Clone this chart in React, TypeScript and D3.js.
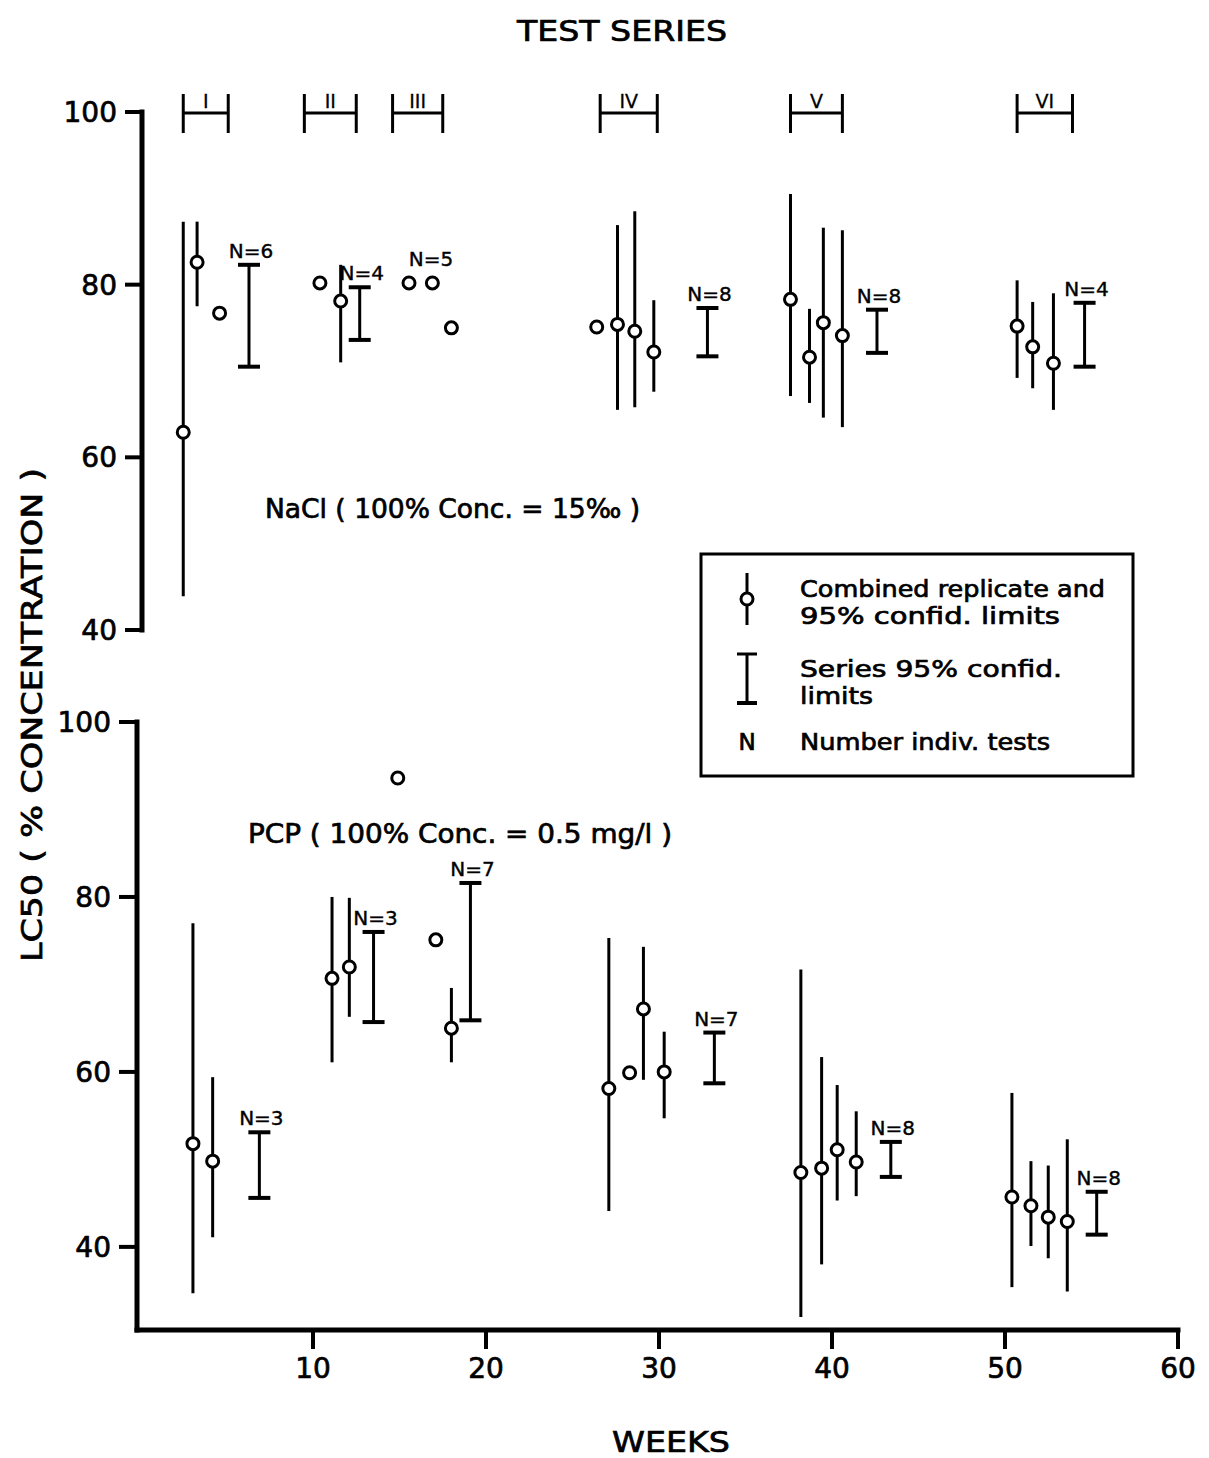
import React from "react";
import * as d3 from "d3";

// ---------- DATA ----------
const seriesNames = ["I", "II", "III", "IV", "V", "VI"];
const seriesStart = [2.5, 9.5, 14.6, 26.6, 37.6, 50.7];
const seriesEnd = [5.1, 12.5, 17.5, 29.9, 40.6, 53.9];

// NaCl – combined replicates (null = no limits drawn)
const naclWeek = [2.5, 3.3, 4.6, 10.4, 11.6, 15.55, 16.9, 18.0, 26.4, 27.6, 28.6, 29.7, 37.6, 38.7, 39.5, 40.6, 50.7, 51.6, 52.8];
const naclLC50 = [62.9, 82.6, 76.7, 80.2, 78.1, 80.2, 80.2, 75.0, 75.1, 75.4, 74.6, 72.2, 78.3, 71.6, 75.6, 74.1, 75.2, 72.8, 70.9];
const naclLow = [43.9, 77.5, null, null, 71.0, null, null, null, null, 65.5, 65.8, 67.6, 67.1, 66.3, 64.6, 63.5, 69.2, 68.0, 65.5];
const naclHigh = [87.3, 87.3, null, null, 82.3, null, null, null, null, 86.9, 88.5, 78.2, 90.5, 77.2, 86.6, 86.3, 80.5, 78.0, 79.0];

// NaCl – series 95% limits
const naclSerWeek = [6.3, 12.7, 16.7, 32.8, 42.6, 54.6];
const naclSerLow = [70.5, 73.6, null, 71.7, 72.1, 70.5];
const naclSerHigh = [82.3, 79.7, null, 77.3, 77.1, 77.9];
const naclSerLabelAt = [82.3, 79.7, 81.3, 77.3, 77.1, 77.9];
const naclSerN = [6, 4, 5, 8, 8, 4];

// PCP – combined replicates
const pcpWeek = [3.06, 4.2, 11.1, 12.1, 14.9, 17.1, 18.0, 27.1, 28.3, 29.1, 30.3, 38.2, 39.4, 40.3, 41.4, 50.4, 51.5, 52.5, 53.6];
const pcpLC50 = [51.8, 49.8, 70.7, 72.0, 93.6, 75.1, 65.0, 58.1, 59.9, 67.2, 60.0, 48.5, 49.0, 51.1, 49.7, 45.7, 44.7, 43.4, 42.9];
const pcpLow = [34.7, 41.1, 61.1, 66.3, null, null, 61.1, 44.1, null, 59.1, 54.7, 32.0, 38.0, 45.3, 45.8, 35.4, 40.1, 38.7, 34.9];
const pcpHigh = [77.0, 59.4, 80.0, 79.9, null, null, 69.6, 75.3, null, 74.3, 64.6, 71.7, 61.7, 58.5, 55.5, 57.6, 49.8, 49.3, 52.3];

// PCP – series 95% limits
const pcpSerWeek = [6.9, 13.5, 19.1, 33.2, 43.4, 55.3];
const pcpSerLow = [45.6, 65.7, 65.9, 58.7, 48.0, 41.4];
const pcpSerHigh = [53.1, 76.0, 81.6, 64.5, 52.0, 46.3];
const pcpSerN = [3, 3, 7, 7, 8, 8];

const xTicks = [10, 20, 30, 40, 50, 60];
const yTicks = [40, 60, 80, 100];

// ---------- LAYOUT ----------
const W = 1209;
const H = 1458;
const FONT = "'DejaVu Sans', 'Liberation Sans', sans-serif";
const TXT = { fontFamily: FONT, fill: "#000", stroke: "#000", strokeWidth: 0.7 };

const x = d3.scaleLinear().domain([0, 60]).range([140, 1178]);
const yTop = d3.scaleLinear().domain([40, 100]).range([630, 112]);
const yBot = d3.scaleLinear().domain([30.5, 100]).range([1330, 722]);

const topAxisX = 142;
const botAxisX = 137;

function Replicates({ week, val, low, high, y }: any) {
  return (
    <g>
      {week.map((w: number, i: number) =>
        low[i] != null ? (
          <line key={"l" + i} x1={x(w)} x2={x(w)} y1={y(high[i])} y2={y(low[i])} stroke="#000" strokeWidth={3} />
        ) : null
      )}
      {week.map((w: number, i: number) => (
        <circle key={"c" + i} cx={x(w)} cy={y(val[i])} r={6} fill="#fff" stroke="#000" strokeWidth={3} />
      ))}
    </g>
  );
}

function SeriesBars({ week, low, high, labelAt, n, y }: any) {
  return (
    <g>
      {week.map((w: number, i: number) => {
        const cx = x(w);
        const la = labelAt ? labelAt[i] : high[i];
        return (
          <g key={i}>
            {low[i] != null && (
              <g stroke="#000">
                <line x1={cx} x2={cx} y1={y(high[i])} y2={y(low[i])} strokeWidth={3} />
                <line x1={cx - 11} x2={cx + 11} y1={y(high[i])} y2={y(high[i])} strokeWidth={4} />
                <line x1={cx - 11} x2={cx + 11} y1={y(low[i])} y2={y(low[i])} strokeWidth={4} />
              </g>
            )}
            <text x={cx + 2} y={y(la) - 7} textAnchor="middle" fontSize={20} {...TXT} strokeWidth={0.4}>
              {"N=" + n[i]}
            </text>
          </g>
        );
      })}
    </g>
  );
}

export default function App() {
  return (
    <svg width={W} height={H} style={{ position: "absolute", left: 0, top: 0, background: "#fff" }}>
      <rect x={0} y={0} width={W} height={H} fill="#fff" />

      {/* title */}
      <text x={622} y={41} textAnchor="middle" fontSize={29} {...TXT} textLength={210} lengthAdjust="spacingAndGlyphs">
        TEST SERIES
      </text>

      {/* test series brackets */}
      {seriesNames.map((s, i) => {
        const a = x(seriesStart[i]);
        const b = x(seriesEnd[i]);
        return (
          <g key={s}>
            <g stroke="#000" strokeWidth={3}>
              <line x1={a} x2={b} y1={113} y2={113} />
              <line x1={a} x2={a} y1={94} y2={133} />
              <line x1={b} x2={b} y1={94} y2={133} />
            </g>
            <text x={(a + b) / 2} y={108} textAnchor="middle" fontSize={19} {...TXT} strokeWidth={0.3}>
              {s}
            </text>
          </g>
        );
      })}

      {/* upper axis */}
      <line x1={topAxisX} x2={topAxisX} y1={yTop(100)} y2={yTop(40)} stroke="#000" strokeWidth={5} strokeLinecap="square" />
      {yTicks.map((t) => (
        <g key={"ut" + t}>
          <line x1={125} x2={topAxisX} y1={yTop(t)} y2={yTop(t)} stroke="#000" strokeWidth={4} />
          <text x={117} y={yTop(t) + 10} textAnchor="end" fontSize={28} {...TXT}>
            {t}
          </text>
        </g>
      ))}

      {/* lower axis */}
      <line x1={botAxisX} x2={botAxisX} y1={yBot(100)} y2={1330} stroke="#000" strokeWidth={5} strokeLinecap="square" />
      <line x1={botAxisX} x2={x(60)} y1={1330} y2={1330} stroke="#000" strokeWidth={5} strokeLinecap="square" />
      {yTicks.map((t) => (
        <g key={"bt" + t}>
          <line x1={119} x2={botAxisX} y1={yBot(t)} y2={yBot(t)} stroke="#000" strokeWidth={4} />
          <text x={111} y={yBot(t) + 10} textAnchor="end" fontSize={28} {...TXT}>
            {t}
          </text>
        </g>
      ))}
      {xTicks.map((t) => (
        <g key={"xt" + t}>
          <line x1={x(t)} x2={x(t)} y1={1330} y2={1349} stroke="#000" strokeWidth={4} />
          <text x={x(t)} y={1378} textAnchor="middle" fontSize={28} {...TXT}>
            {t}
          </text>
        </g>
      ))}

      {/* axis titles */}
      <text x={671} y={1452} textAnchor="middle" fontSize={29} {...TXT} textLength={118} lengthAdjust="spacingAndGlyphs">
        WEEKS
      </text>
      <text
        transform="translate(42,715) rotate(-90)"
        x={0}
        y={0}
        textAnchor="middle"
        fontSize={28}
        {...TXT}
        textLength={494}
        lengthAdjust="spacingAndGlyphs"
      >
        LC50 ( % CONCENTRATION )
      </text>

      {/* panel labels */}
      <text x={265} y={518} fontSize={26} {...TXT} textLength={375} lengthAdjust="spacingAndGlyphs">
        NaCl ( 100% Conc. = 15‰ )
      </text>
      <text x={248} y={843} fontSize={26} {...TXT} textLength={424} lengthAdjust="spacingAndGlyphs">
        PCP ( 100% Conc. = 0.5 mg/l )
      </text>

      {/* data */}
      <Replicates week={naclWeek} val={naclLC50} low={naclLow} high={naclHigh} y={yTop} />
      <SeriesBars week={naclSerWeek} low={naclSerLow} high={naclSerHigh} labelAt={naclSerLabelAt} n={naclSerN} y={yTop} />
      <Replicates week={pcpWeek} val={pcpLC50} low={pcpLow} high={pcpHigh} y={yBot} />
      <SeriesBars week={pcpSerWeek} low={pcpSerLow} high={pcpSerHigh} n={pcpSerN} y={yBot} />

      {/* legend */}
      <g>
        <rect x={701} y={554} width={432} height={222} fill="#fff" stroke="#000" strokeWidth={3} />
        <line x1={747} x2={747} y1={573} y2={625} stroke="#000" strokeWidth={3} />
        <circle cx={747} cy={599} r={6} fill="#fff" stroke="#000" strokeWidth={3} />
        <line x1={747} x2={747} y1={654} y2={703} stroke="#000" strokeWidth={3} />
        <line x1={737} x2={757} y1={654} y2={654} stroke="#000" strokeWidth={3} />
        <line x1={737} x2={757} y1={703} y2={703} stroke="#000" strokeWidth={4} />
        <text x={747} y={750} textAnchor="middle" fontSize={23} {...TXT}>N</text>
        <text x={800} y={597} fontSize={23} {...TXT} textLength={305} lengthAdjust="spacingAndGlyphs">Combined replicate and</text>
        <text x={800} y={624} fontSize={23} {...TXT} textLength={260} lengthAdjust="spacingAndGlyphs">95% confid. limits</text>
        <text x={800} y={677} fontSize={23} {...TXT} textLength={262} lengthAdjust="spacingAndGlyphs">Series 95% confid.</text>
        <text x={800} y={704} fontSize={23} {...TXT} textLength={73} lengthAdjust="spacingAndGlyphs">limits</text>
        <text x={800} y={750} fontSize={23} {...TXT} textLength={250} lengthAdjust="spacingAndGlyphs">Number indiv. tests</text>
      </g>
    </svg>
  );
}
